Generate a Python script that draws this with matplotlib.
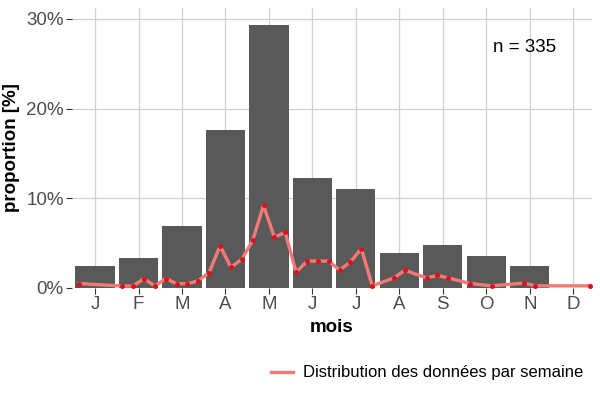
import matplotlib.pyplot as plt
import matplotlib.ticker as mticker

plt.rcParams['font.family'] = ['Liberation Sans', 'DejaVu Sans']

# monthly proportions (%)
months = ["J", "F", "M", "A", "M", "J", "J", "A", "S", "O", "N", "D"]
month_pct = [2.4, 3.3, 6.9, 17.6, 29.3, 12.3, 11.0, 3.9, 4.8, 3.6, 2.4, 0.0]

# weekly distribution (4 "weeks" per month, weeks with no data skipped)
weeks = [1, 5, 6, 7, 8, 9, 10, 11, 12, 13, 14, 15, 16, 17, 18, 19, 20, 21,
         22, 23, 24, 25, 26, 27, 28, 30, 31, 33, 34, 35, 37, 39, 42, 43, 48]
week_pct = [0.5, 0.22, 0.22, 1.05, 0.22, 1.05, 0.48, 0.48, 0.8, 1.72, 4.7,
            2.3, 3.2, 5.3, 9.2, 5.65, 6.2, 1.75, 3.0, 3.0, 3.0, 2.0, 2.9,
            4.4, 0.24, 1.12, 1.98, 1.12, 1.4, 1.12, 0.5, 0.24, 0.55, 0.24,
            0.24]
n_total = 335

week_x = [0.5 + (w - 0.5) * 0.25 for w in weeks]
month_x = list(range(1, 13))

fig = plt.figure(figsize=(6, 4), dpi=100)
ax = fig.add_axes([72 / 600, 1 - 288 / 400, (592 - 72) / 600, (288 - 8) / 400])

ax.bar(month_x, month_pct, width=0.9, color="#595959", zorder=2)
ax.plot(week_x, week_pct, color="#F27A76", lw=2.4, zorder=3,
        label="Distribution des données par semaine")
ax.scatter(week_x, week_pct, color="#D7141E", s=13, zorder=4, linewidths=0)

ax.set_xlim(0.47, 12.43)
ax.set_ylim(0, 31.2)
ax.set_xticks(month_x)
ax.set_xticklabels(months)
ax.set_yticks([0, 10, 20, 30])
ax.yaxis.set_major_formatter(mticker.FuncFormatter(lambda v, p: f"{v:.0f}%"))

ax.grid(True, color="#D0D0D0", lw=0.9, zorder=0)
ax.set_axisbelow(True)
for s in ax.spines.values():
    s.set_visible(False)
ax.tick_params(axis="both", colors="#333333", length=4, width=0.8,
               labelsize=13.5, labelcolor="#4D4D4D", pad=2)

ax.set_xlabel("mois", fontsize=13.5, fontweight="bold", labelpad=4)
ax.set_ylabel("proportion [%]", fontsize=13.5, fontweight="bold", labelpad=4)

ax.text(0.87, 0.86, f"n = {n_total}", transform=ax.transAxes, fontsize=13.5,
        ha="center", va="center", color="black")

fig.legend(loc="center right", bbox_to_anchor=(598 / 600, 1 - 373 / 400),
           frameon=False, fontsize=12, handlelength=1.3, handletextpad=0.6)

fig.savefig("out.png", dpi=100)
